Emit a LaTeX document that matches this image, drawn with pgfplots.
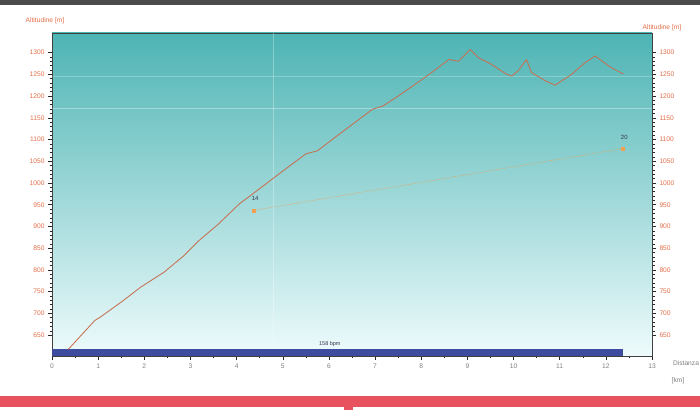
\documentclass[border=0pt]{standalone}
\usepackage{pgfplots}
\pgfplotsset{compat=1.18}
\usepackage{fontspec}
\setmainfont{Liberation Sans}
\definecolor{tealtop}{RGB}{78,180,180}
\definecolor{tealmid}{RGB}{165,223,227}
\definecolor{tealbot}{RGB}{238,251,252}
\definecolor{axlab}{RGB}{226,110,72}
\definecolor{prof}{RGB}{198,112,82}
\definecolor{barblue}{RGB}{62,76,160}
\definecolor{redband}{RGB}{232,82,94}
\definecolor{mk}{RGB}{240,160,80}
\definecolor{navy}{RGB}{50,50,80}
\begin{document}
\begin{tikzpicture}
\path[use as bounding box] (0,0) rectangle (700bp,410bp);
\fill[white] (0,0) rectangle (700bp,410bp);
\fill[gray!60!black] (0,405bp) rectangle (700bp,410bp);
\fill[redband] (0,3bp) rectangle (700bp,14bp);
\fill[redband] (344bp,0) rectangle (353bp,3bp);
\begin{axis}[
  at={(52bp,54bp)}, anchor=south west,
  scale only axis, width=600bp, height=323bp,
  xmin=0, xmax=13, ymin=602, ymax=1345,
  xtick={0,1,...,13}, ytick={650,700,...,1300},
  minor x tick num=1, minor y tick num=4,
  xtick pos=bottom, ytick pos=left,
  tick align=outside,
  major tick length=4bp, minor tick length=2.5bp,
  tick style={gray!30!black, line width=0.5bp},
  axis line style={gray!50!black, line width=0.7bp},
  axis background/.style={top color=tealtop, middle color=tealmid, bottom color=tealbot},
  /pgf/number format/1000 sep={},
  /pgf/number format/assume math mode=true,
  yticklabel style={font=\fontsize{6.7}{7}\selectfont, text=axlab},
  xticklabel style={font=\fontsize{6.7}{7}\selectfont, text=gray},
]
\addplot[white, opacity=0.3, line width=0.7bp] coordinates {(4.8,602) (4.8,1345)};
\addplot[white, opacity=0.35, line width=0.7bp] coordinates {(0,1172) (13,1172)};
\addplot[white, opacity=0.25, line width=0.7bp] coordinates {(0,1246) (13,1246)};
\addplot[draw=none, fill=barblue] coordinates {(0,602) (0,619) (12.38,619) (12.38,602)} -- cycle;
\addplot[mk, densely dotted, line width=0.6bp] coordinates {(4.37,937) (12.36,1079)};
\addplot[prof, line width=0.85bp, line join=round] coordinates {
(0.35,617) (0.93,684) (1.04,691) (1.5,726) (1.93,761) (2.43,795) (2.86,833)
(3.19,868) (3.6,905) (4.06,952) (4.35,975) (4.92,1021) (5.5,1067) (5.75,1074)
(6.22,1112) (6.95,1170) (7.17,1177) (7.5,1200) (7.8,1222) (8.2,1252) (8.6,1284)
(8.81,1280) (9.06,1307) (9.24,1288) (9.52,1273) (9.85,1250) (9.96,1246)
(10.1,1258) (10.28,1284) (10.39,1254) (10.69,1235) (10.9,1225) (11.26,1250)
(11.55,1277) (11.77,1292) (12.12,1265) (12.38,1251)};
\addplot[only marks, mark=square*, mark size=1.5bp, color=mk] coordinates {(4.37,937) (12.36,1079)};
\node[font=\fontsize{6}{7}\selectfont, text=navy] at (axis cs:4.4,964) {14};
\node[font=\fontsize{6}{7}\selectfont, text=navy] at (axis cs:12.4,1105) {20};
\node[font=\fontsize{5.5}{6}\selectfont, text=navy] at (axis cs:6.02,629) {158 bpm};
\end{axis}
\begin{axis}[
  at={(52bp,54bp)}, anchor=south west,
  scale only axis, width=600bp, height=323bp,
  xmin=0, xmax=13, ymin=602, ymax=1345,
  hide x axis, axis y line*=right,
  ytick={650,700,...,1300}, minor y tick num=4,
  tick align=outside,
  major tick length=4bp, minor tick length=2.5bp,
  tick style={gray!30!black, line width=0.5bp},
  axis line style={gray!50!black, line width=0.7bp},
  /pgf/number format/1000 sep={},
  /pgf/number format/assume math mode=true,
  yticklabel style={font=\fontsize{6.7}{7}\selectfont, text=axlab},
]
\addplot[draw=none] coordinates {(0,700)};
\end{axis}
\node[font=\fontsize{6.7}{7}\selectfont, text=axlab] at (45bp,389bp) {Altitudine [m]};
\node[font=\fontsize{6.7}{7}\selectfont, text=axlab] at (662bp,382bp) {Altitudine [m]};
\node[font=\fontsize{6.7}{7}\selectfont, text=gray] at (686bp,47bp) {Distanza};
\node[font=\fontsize{6.7}{7}\selectfont, text=gray] at (678bp,29bp) {[km]};
\end{tikzpicture}
\end{document}
